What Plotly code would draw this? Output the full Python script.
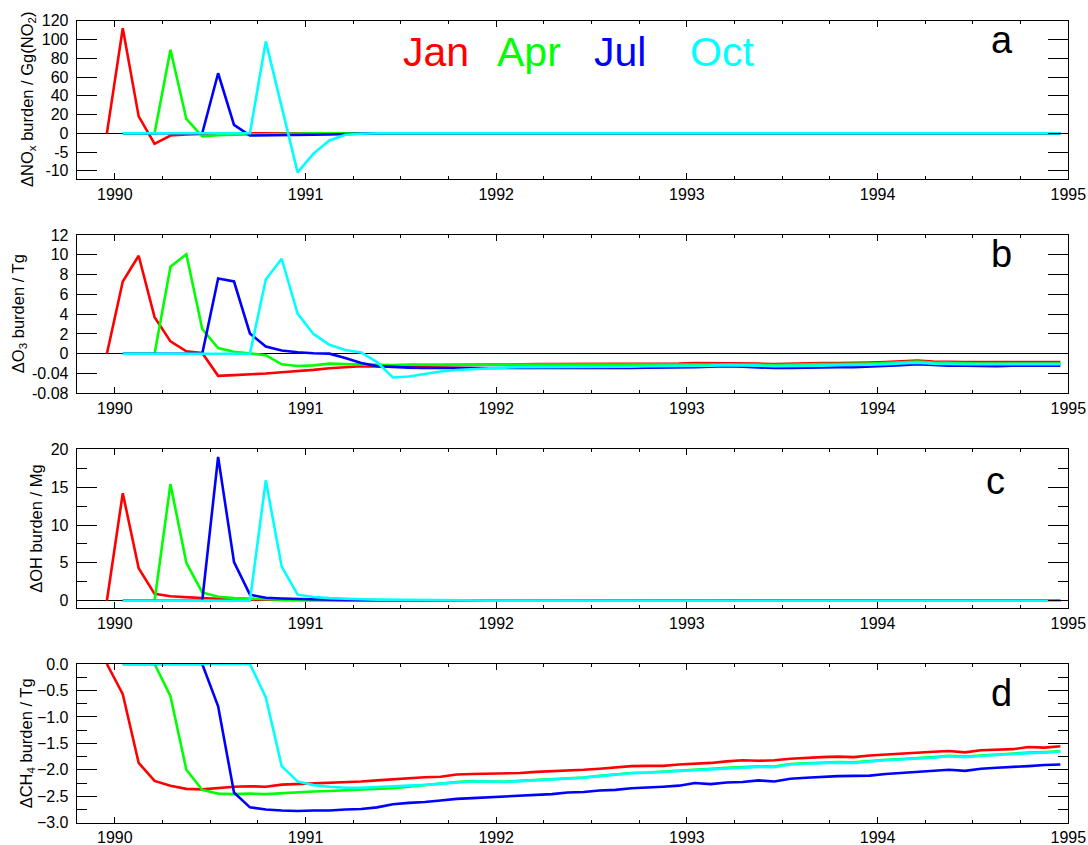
import plotly.graph_objects as go

# ---------------- data ----------------
# monthly mid-points; first entry = mid Dec 1989
months = [1990 + (i - 0.5) / 12 for i in range(61)]
year_ticks = [1990, 1991, 1992, 1993, 1994, 1995]
legend_names = ["Jan", "Apr", "Jul", "Oct"]
colors = ["#FF0000", "#00FF00", "#0000FF", "#00FFFF"]

# Panel a: delta NOx burden (Gg NO2)
red_a = [0,
         112, 18, -2.8, -0.6, -0.3, -0.2, -0.1, -0.05, 0, 0, 0, 0,
         0, 0, 0, 0, 0, 0, 0, 0, 0, 0, 0, 0,
         0, 0, 0, 0, 0, 0, 0, 0, 0, 0, 0, 0,
         0, 0, 0, 0, 0, 0, 0, 0, 0, 0, 0, 0,
         0, 0, 0, 0, 0, 0, 0, 0, 0, 0, 0, 0]
green_a = [None,
           0, 0, 0, 89, 15.3, -0.8, -0.5, -0.4, -0.3, -0.2, -0.1, -0.05,
           0, 0, 0, 0, 0, 0, 0, 0, 0, 0, 0, 0,
           0, 0, 0, 0, 0, 0, 0, 0, 0, 0, 0, 0,
           0, 0, 0, 0, 0, 0, 0, 0, 0, 0, 0, 0,
           0, 0, 0, 0, 0, 0, 0, 0, 0, 0, 0, 0]
blue_a = [None,
          0, 0, 0, 0, 0, 0, 64, 9, -0.6, -0.6, -0.55, -0.5,
          -0.4, -0.3, -0.15, -0.05, 0, 0, 0, 0, 0, 0, 0, 0,
          0, 0, 0, 0, 0, 0, 0, 0, 0, 0, 0, 0,
          0, 0, 0, 0, 0, 0, 0, 0, 0, 0, 0, 0,
          0, 0, 0, 0, 0, 0, 0, 0, 0, 0, 0, 0]
cyan_a = [None,
          0, 0, 0, 0, 0, 0, 0, 0, 0, 98, 28, -10.4,
          -5.4, -1.9, -0.4, -0.1, 0, 0, 0, 0, 0, 0, 0, 0,
          0, 0, 0, 0, 0, 0, 0, 0, 0, 0, 0, 0,
          0, 0, 0, 0, 0, 0, 0, 0, 0, 0, 0, 0,
          0, 0, 0, 0, 0, 0, 0, 0, 0, 0, 0, 0]

# Panel b: delta O3 burden (Tg)
red_b = [0,
         7.3, 9.9, 3.7, 1.25, 0.25, 0.08, -0.0447, -0.0433, -0.042, -0.040, -0.0373, -0.0353,
         -0.0327, -0.0293, -0.0267, -0.0253, -0.0255, -0.025, -0.024, -0.023, -0.023, -0.022, -0.022, -0.022,
         -0.022, -0.021, -0.021, -0.021, -0.021, -0.021, -0.020, -0.021, -0.021, -0.020, -0.020, -0.020,
         -0.019, -0.019, -0.019, -0.019, -0.020, -0.021, -0.020, -0.020, -0.019, -0.019, -0.019, -0.018,
         -0.017, -0.016, -0.014, -0.016, -0.017, -0.017, -0.017, -0.017, -0.017, -0.017, -0.017, -0.017]
green_b = [None,
           0, 0, 0, 8.8, 10.05, 2.5, 0.57, 0.2, 0.05, -0.003, -0.0213, -0.0247,
           -0.0235, -0.020, -0.021, -0.022, -0.023, -0.023, -0.022, -0.022, -0.022, -0.022, -0.022, -0.022,
           -0.022, -0.022, -0.022, -0.022, -0.022, -0.022, -0.021, -0.022, -0.022, -0.021, -0.021, -0.021,
           -0.021, -0.021, -0.021, -0.022, -0.022, -0.023, -0.022, -0.022, -0.021, -0.021, -0.021, -0.020,
           -0.019, -0.018, -0.016, -0.018, -0.019, -0.020, -0.020, -0.020, -0.020, -0.020, -0.020, -0.020]
blue_b = [None,
          0, 0, 0, 0, 0, 0, 7.6, 7.3, 2.05, 0.72, 0.33, 0.15,
          0.05, 0.01, -0.0087, -0.0187, -0.025, -0.027, -0.028, -0.029, -0.029, -0.030, -0.030, -0.029,
          -0.029, -0.029, -0.029, -0.029, -0.029, -0.029, -0.029, -0.029, -0.029, -0.028, -0.028, -0.027,
          -0.027, -0.026, -0.025, -0.026, -0.028, -0.029, -0.029, -0.028, -0.027, -0.027, -0.027, -0.026,
          -0.025, -0.023, -0.021, -0.023, -0.024, -0.024, -0.025, -0.025, -0.024, -0.024, -0.024, -0.024]
cyan_b = [None,
          0, 0, 0, 0, 0, 0, 0, 0, 0, 7.5, 9.6, 4.05,
          2.0, 0.9, 0.38, 0.13, -0.017, -0.048, -0.046, -0.041, -0.036, -0.033, -0.031, -0.029,
          -0.028, -0.027, -0.027, -0.026, -0.026, -0.026, -0.026, -0.026, -0.026, -0.025, -0.025, -0.025,
          -0.024, -0.024, -0.023, -0.023, -0.024, -0.025, -0.025, -0.025, -0.024, -0.023, -0.023, -0.022,
          -0.021, -0.020, -0.018, -0.020, -0.021, -0.021, -0.021, -0.021, -0.021, -0.021, -0.021, -0.021]

# Panel c: delta OH burden (Mg)
red_c = [0,
         14.2, 4.3, 0.9, 0.6, 0.45, 0.35, 0.27, 0.2, 0.15, 0.12, 0.1, 0.08,
         0.06, 0.05, 0.04, 0.03, 0.02, 0.02, 0.01, 0.01, 0, 0, 0, 0,
         0, 0, 0, 0, 0, 0, 0, 0, 0, 0, 0, 0,
         0, 0, 0, 0, 0, 0, 0, 0, 0, 0, 0, 0,
         0, 0, 0, 0, 0, 0, 0, 0, 0, 0, 0, 0]
green_c = [None,
           0, 0, 0, 15.4, 5.0, 1.1, 0.53, 0.35, 0.25, 0.18, 0.13, 0.1,
           0.08, 0.06, 0.05, 0.04, 0.03, 0.02, 0.02, 0.01, 0.01, 0, 0, 0,
           0, 0, 0, 0, 0, 0, 0, 0, 0, 0, 0, 0,
           0, 0, 0, 0, 0, 0, 0, 0, 0, 0, 0, 0,
           0, 0, 0, 0, 0, 0, 0, 0, 0, 0, 0, 0]
blue_c = [None,
          0, 0, 0, 0, 0, 0, 19.0, 5.1, 0.8, 0.4, 0.3, 0.22,
          0.16, 0.12, 0.09, 0.07, 0.05, 0.04, 0.03, 0.02, 0.01, 0.01, 0, 0,
          0, 0, 0, 0, 0, 0, 0, 0, 0, 0, 0, 0,
          0, 0, 0, 0, 0, 0, 0, 0, 0, 0, 0, 0,
          0, 0, 0, 0, 0, 0, 0, 0, 0, 0, 0, 0]
cyan_c = [None,
          0, 0, 0, 0, 0, 0, 0, 0, 0, 15.9, 4.5, 0.8,
          0.5, 0.35, 0.25, 0.2, 0.15, 0.12, 0.09, 0.07, 0.05, 0.04, 0.03, 0.02,
          0.01, 0.01, 0, 0, 0, 0, 0, 0, 0, 0, 0, 0,
          0, 0, 0, 0, 0, 0, 0, 0, 0, 0, 0, 0,
          0, 0, 0, 0, 0, 0, 0, 0, 0, 0, 0, 0]

# Panel d: delta CH4 burden (Tg)
red_d = [0,
         -0.57, -1.87, -2.21, -2.30, -2.36, -2.37, -2.34, -2.32, -2.31, -2.32, -2.28, -2.27,
         -2.26, -2.25, -2.23, -2.22, -2.20, -2.18, -2.15, -2.14, -2.13, -2.09, -2.08, -2.075,
         -2.07, -2.06, -2.04, -2.03, -2.01, -2.00, -1.98, -1.96, -1.93, -1.925, -1.925, -1.90,
         -1.89, -1.87, -1.84, -1.82, -1.83, -1.82, -1.79, -1.77, -1.76, -1.75, -1.76, -1.73,
         -1.71, -1.70, -1.68, -1.66, -1.645, -1.67, -1.63, -1.62, -1.61, -1.57, -1.58, -1.555]
green_d = [None,
           0, 0, 0, -0.61, -2.0, -2.38, -2.45, -2.46, -2.45, -2.46, -2.44, -2.43,
           -2.41, -2.40, -2.39, -2.38, -2.37, -2.35, -2.32, -2.29, -2.26, -2.23, -2.215, -2.215,
           -2.225, -2.21, -2.195, -2.18, -2.165, -2.145, -2.115, -2.09, -2.06, -2.05, -2.035, -2.015,
           -1.995, -1.98, -1.96, -1.945, -1.935, -1.94, -1.89, -1.875, -1.86, -1.855, -1.86, -1.83,
           -1.81, -1.795, -1.78, -1.76, -1.735, -1.75, -1.73, -1.71, -1.695, -1.675, -1.665, -1.65]
blue_d = [None,
          0, 0, 0, 0, 0, 0, -0.8, -2.43, -2.71, -2.75, -2.77, -2.78,
          -2.77, -2.77, -2.75, -2.74, -2.71, -2.65, -2.625, -2.61, -2.58, -2.55, -2.535, -2.52,
          -2.51, -2.50, -2.48, -2.46, -2.43, -2.42, -2.39, -2.38, -2.35, -2.34, -2.32, -2.30,
          -2.25, -2.27, -2.24, -2.23, -2.20, -2.22, -2.17, -2.15, -2.13, -2.12, -2.115, -2.11,
          -2.08, -2.06, -2.04, -2.01, -2.00, -2.02, -1.98, -1.96, -1.95, -1.93, -1.91, -1.90]
cyan_d = [None,
          0, 0, 0, 0, 0, 0, 0, 0, 0, -0.63, -1.93, -2.22,
          -2.29, -2.32, -2.34, -2.34, -2.33, -2.31, -2.30, -2.285, -2.265, -2.235, -2.22, -2.22,
          -2.23, -2.215, -2.20, -2.185, -2.17, -2.15, -2.12, -2.095, -2.065, -2.055, -2.04, -2.02,
          -2.0, -1.985, -1.97, -1.955, -1.945, -1.95, -1.90, -1.885, -1.87, -1.865, -1.87, -1.84,
          -1.82, -1.805, -1.79, -1.77, -1.745, -1.76, -1.74, -1.72, -1.705, -1.685, -1.675, -1.66]

# tick labels of the broken (stretched-negative) axes
a_tick_vals = [120, 100, 80, 60, 40, 20, 0, -5, -10]
b_tick_vals = [12, 10, 8, 6, 4, 2, 0, -0.04, -0.08]
A_NEG = 4.0    # negative part of panel a stretched 4x
B_NEG = 50.0   # negative part of panel b stretched 50x


def stretch(vals, f):
    return [None if v is None else (v if v >= 0 else v * f) for v in vals]


def fmt(v):
    return "0" if v == 0 else ("%g" % v)


panels = [
    ([red_a, green_a, blue_a, cyan_a], A_NEG),
    ([red_b, green_b, blue_b, cyan_b], B_NEG),
    ([red_c, green_c, blue_c, cyan_c], 1.0),
    ([red_d, green_d, blue_d, cyan_d], 1.0),
]

# ---------------- figure ----------------
W, H = 1088, 845
FONT = "Liberation Sans, Arial, Helvetica, sans-serif"
fig = go.Figure()

for p, (series, f) in enumerate(panels):
    ax = "" if p == 0 else str(p + 1)
    for s, vals in enumerate(series):
        fig.add_trace(go.Scatter(
            x=months, y=stretch(vals, f), mode="lines",
            line=dict(color=colors[s], width=2.6),
            xaxis="x" + ax, yaxis="y" + ax, showlegend=False,
            connectgaps=False, hoverinfo="skip"))

# pixel boxes of panels (top, bottom)
boxes = [(20.7, 179.3), (235.0, 393.3), (449.3, 608.3), (664.0, 822.7)]
x0, x1 = 76.7, 1068.3

xcommon = dict(range=[1989.8, 1995.0], tickmode="array", tickvals=year_ticks,
               ticks="inside", ticklen=6, tickcolor="black", tickwidth=1,
               minor=dict(tickmode="linear", tick0=1990, dtick=0.25, ticks="inside",
                          ticklen=3, tickcolor="black", tickwidth=1),
               showline=True, linecolor="black", linewidth=1, mirror="ticks",
               showgrid=False, zeroline=False, automargin=False,
               tickfont=dict(family=FONT, size=16, color="black"),
               ticklabelstandoff=0, fixedrange=True)

ycommon = dict(ticks="inside", ticklen=20, tickcolor="black", tickwidth=1,
               showline=True, linecolor="black", linewidth=1, mirror="ticks",
               showgrid=False, automargin=False,
               tickfont=dict(family=FONT, size=16, color="black"),
               ticklabelstandoff=4, fixedrange=True)

yspecs = [
    dict(range=[-49, 120], tickmode="array",
         tickvals=stretch(a_tick_vals, A_NEG), ticktext=[fmt(v) for v in a_tick_vals],
         zeroline=True, zerolinecolor="black", zerolinewidth=1),
    dict(range=[-4, 12], tickmode="array",
         tickvals=stretch(b_tick_vals, B_NEG), ticktext=[fmt(v) for v in b_tick_vals],
         zeroline=True, zerolinecolor="black", zerolinewidth=1),
    dict(range=[-1, 20], tickmode="linear", tick0=0, dtick=5,
         minor=dict(tickmode="linear", tick0=0, dtick=2.5, ticks="inside", ticklen=10,
                    tickcolor="black", tickwidth=1),
         zeroline=True, zerolinecolor="black", zerolinewidth=1),
    dict(range=[-3, 0], tickmode="linear", tick0=0, dtick=0.5, tickformat=".1f",
         minor=dict(tickmode="linear", tick0=0, dtick=0.25, ticks="inside", ticklen=10,
                    tickcolor="black", tickwidth=1),
         zeroline=False),
]

layout = dict(width=W, height=H, margin=dict(l=0, r=0, t=0, b=0, pad=0, autoexpand=False),
              paper_bgcolor="white", plot_bgcolor="white",
              font=dict(family=FONT, size=16, color="black"))
for p in range(4):
    ax = "" if p == 0 else str(p + 1)
    top, bot = boxes[p]
    xa = dict(xcommon, domain=[x0 / W, x1 / W], anchor="y" + ax)
    if p > 0:
        xa["matches"] = "x"
    ya = dict(ycommon, **yspecs[p])
    ya["domain"] = [1 - bot / H, 1 - top / H]
    ya["anchor"] = "x" + ax
    layout["xaxis" + ax] = xa
    layout["yaxis" + ax] = ya
fig.update_layout(**layout)

# y-axis titles
titles = ["ΔNO<sub>x</sub> burden / Gg(NO<sub>2</sub>)", "ΔO<sub>3</sub> burden / Tg",
          "ΔOH burden / Mg", "ΔCH<sub>4</sub> burden / Tg"]
title_x = [28, 19, 36, 27]
for p in range(4):
    top, bot = boxes[p]
    fig.add_annotation(text=titles[p], textangle=-90, xref="paper", yref="paper",
                       x=title_x[p] / W, y=1 - (top + bot) / 2 / H,
                       xanchor="center", yanchor="middle", showarrow=False,
                       font=dict(family=FONT, size=16.5, color="black"))

# panel letters
letters = ["a", "b", "c", "d"]
letter_pos = [(1002, 40), (1001, 254), (995, 481), (1001, 693)]
for p in range(4):
    lx, ly = letter_pos[p]
    fig.add_annotation(text=letters[p], xref="paper", yref="paper",
                       x=lx / W, y=1 - ly / H, xanchor="center", yanchor="middle",
                       showarrow=False, font=dict(family=FONT, size=38, color="black"))

# month legend
legend_x = [400.7, 495, 591.7, 688]
for s in range(4):
    fig.add_annotation(text=legend_names[s], xref="paper", yref="paper",
                       x=legend_x[s] / W, y=1 - 52 / H, xanchor="left", yanchor="middle",
                       showarrow=False, font=dict(family=FONT, size=41, color=colors[s]))

fig.write_html("out.html",
               config={"displayModeBar": False, "staticPlot": True},
               post_script="document.body.style.margin='0';"
                           "document.body.style.padding='0';"
                           "document.body.style.overflow='hidden';")
